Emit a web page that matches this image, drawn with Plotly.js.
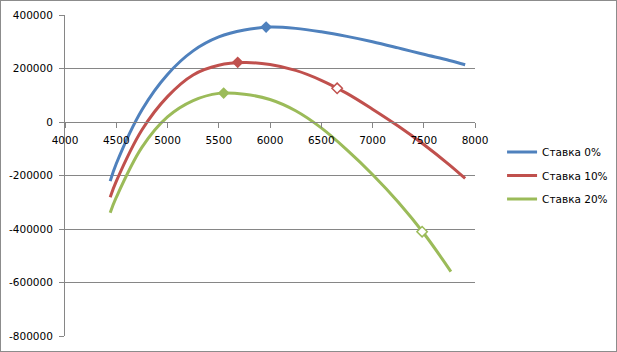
<!DOCTYPE html>
<html>
<head>
<meta charset="utf-8">
<script src="https://cdn.plot.ly/plotly-3.0.1.min.js"></script>
<style>
  html, body { margin: 0; padding: 0; background: #fff; }
  #wrap { position: relative; width: 617px; height: 352px; }
  #chart { width: 617px; height: 352px; }
  #frame { position: absolute; left: 0; top: 0; width: 617px; height: 352px; box-sizing: border-box; border: 1px solid #8c8c8c; pointer-events: none; }
</style>
</head>
<body>
<div id="wrap"><div id="chart"></div><div id="frame"></div></div>
<script>
// ---- data ----
const seriesNames = ["Ставка 0%", "Ставка 10%", "Ставка 20%"];

const blueX = [4441, 4500, 4750, 5000, 5250, 5500, 5750, 6000, 6250, 6500, 6750, 7000, 7250, 7500, 7750, 7904];
const blueY = [-221000, -156000, 45000, 178000, 266000, 318000, 344000, 355000, 350000, 337000, 320000, 300000, 277000, 253000, 230000, 214000];

const redX = [4441, 4500, 4750, 5000, 5250, 5500, 5750, 6000, 6250, 6500, 6750, 7000, 7250, 7500, 7750, 7904];
const redY = [-281000, -222000, -30000, 95000, 176000, 212000, 222000, 215000, 193000, 156000, 107000, 48000, -15000, -84000, -160000, -211000];

const greenX = [4441, 4500, 4750, 5000, 5250, 5500, 5750, 6000, 6250, 6500, 6750, 7000, 7250, 7500, 7765];
const greenY = [-339000, -282000, -95000, 19000, 80000, 107000, 104000, 84000, 42000, -22000, -104000, -196000, -299000, -416000, -559000];

// maximum points (filled diamonds)
const peakX = [5962, 5685, 5548];
const peakY = [355000, 223000, 108000];
// second marked points (open diamonds): red and green series
const openX = [6655, 7484];
const openY = [126000, -410000];

const xTickVals = [4000, 4500, 5000, 5500, 6000, 6500, 7000, 7500, 8000];
const yTickVals = [-800000, -600000, -400000, -200000, 0, 200000, 400000];
const yTickText = ["-800000", "-600000", "-400000", "-200000", "0", "200000", "400000"];

const colors = ["#4F81BD", "#C0504D", "#9BBB59"];
const font = { family: "DejaVu Sans, Verdana, sans-serif", size: 10.5, color: "#000" };

function curve(x, y, i) {
  return {
    x: x, y: y, name: seriesNames[i], legendgroup: "g" + i, type: "scatter", mode: "lines",
    line: { color: colors[i], width: 3, shape: "spline", smoothing: 1 },
    hoverinfo: "skip"
  };
}

const traces = [
  curve(blueX, blueY, 0),
  curve(redX, redY, 1),
  curve(greenX, greenY, 2),
  {
    x: peakX, y: peakY, type: "scatter", mode: "markers", showlegend: false,
    marker: { symbol: "diamond", size: 9, color: colors, line: { width: 0 } }
  },
  {
    x: openX, y: openY, type: "scatter", mode: "markers", showlegend: false,
    marker: { symbol: "diamond", size: 8, color: "#ffffff", line: { width: 1.5, color: [colors[1], colors[2]] } }
  }
];

const layout = {
  width: 617, height: 352,
  margin: { l: 65, r: 142, t: 15, b: 16, pad: 0, autoexpand: false },
  paper_bgcolor: "#ffffff", plot_bgcolor: "#ffffff",
  font: font,
  showlegend: true,
  legend: {
    x: 1.066, xanchor: "left", y: 0.5, yanchor: "middle",
    font: font, tracegroupgap: 4.5, itemwidth: 30,
    bgcolor: "rgba(0,0,0,0)"
  },
  xaxis: {
    range: [4000, 8000], tickvals: xTickVals,
    anchor: "free", position: 800000 / 1200000,
    showgrid: false, zeroline: false,
    showline: true, linecolor: "#868686", linewidth: 1,
    ticks: "outside", ticklen: 5, tickcolor: "#868686",
    tickfont: font, ticklabelstandoff: 3
  },
  yaxis: {
    range: [-800000, 400000], tickvals: yTickVals, ticktext: yTickText,
    showgrid: true, gridcolor: "#868686", gridwidth: 1,
    zeroline: false,
    showline: true, linecolor: "#868686", linewidth: 1,
    ticks: "outside", ticklen: 5, tickcolor: "#868686",
    tickfont: font, ticklabelstandoff: 4
  }
};

Plotly.newPlot("chart", traces, layout, { displayModeBar: false, staticPlot: true });
</script>
</body>
</html>
